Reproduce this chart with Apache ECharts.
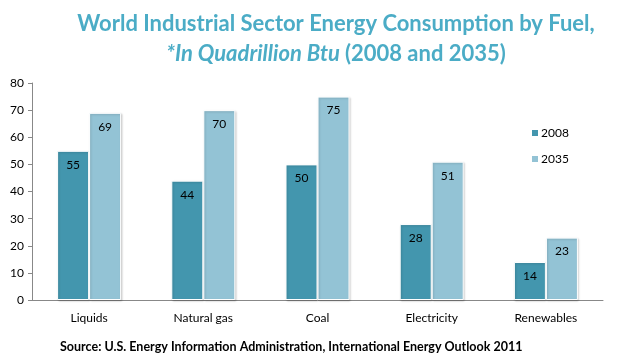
<!DOCTYPE html>
<html><head><meta charset="utf-8">
<script src="https://cdn.jsdelivr.net/npm/echarts@6/dist/echarts.min.js"></script>
<style>html,body{margin:0;padding:0;background:#fff}#c{width:643px;height:356px}</style>
</head><body><div id="c"></div>
<script>
const categories = ['Liquids', 'Natural gas', 'Coal', 'Electricity', 'Renewables'];
const values2008 = [55, 44, 50, 28, 14];
const values2035 = [69, 70, 75, 51, 23];
const seriesNames = ['2008', '2035'];
const yTicks = [0, 10, 20, 30, 40, 50, 60, 70, 80];

const chart = echarts.init(document.getElementById('c'));
const font = 'Lato, "Open Sans", sans-serif';
const labelCfg = {show: true, position: 'insideTop', distance: 8, color: '#000', fontSize: 12, fontFamily: font};
chart.setOption({
  animation: false,
  title: [{
    text: '{b|World Industrial Sector Energy Consumption by Fuel,}\n{i|*In Quadrillion Btu} {b|(2008 and 2035)}',
    left: 331, top: 4, textAlign: 'center',
    textStyle: {
      rich: {
        b: {fontFamily: font, fontSize: 22, fontWeight: 'bold', color: '#4BACC6', lineHeight: 30, align: 'center'},
        i: {fontFamily: font, fontSize: 22, fontWeight: 'bold', fontStyle: 'italic', color: '#4BACC6', lineHeight: 30}
      }
    }
  }, {
    text: 'Source: U.S. Energy Information Administration, International Energy Outlook 2011',
    left: 55, top: 335,
    textStyle: {fontFamily: font, fontSize: 12.5, fontWeight: 'bold', color: '#000'}
  }],
  legend: {
    orient: 'vertical', left: 525, top: 122, itemWidth: 8, itemHeight: 8, itemGap: 14,
    icon: 'rect',
    textStyle: {fontFamily: font, fontSize: 12, color: '#000', padding: [0, 0, 0, -3]},
    data: seriesNames
  },
  grid: {left: 32, right: 40, top: 83, bottom: 56, containLabel: false},
  xAxis: {
    type: 'category', data: categories,
    axisLine: {lineStyle: {color: '#888'}},
    axisTick: {show: false},
    axisLabel: {fontFamily: font, fontSize: 12, color: '#000', margin: 12}
  },
  yAxis: {
    type: 'value', min: yTicks[0], max: yTicks[yTicks.length - 1], interval: 10,
    axisLine: {show: true, lineStyle: {color: '#888'}},
    axisTick: {show: true, length: 4, lineStyle: {color: '#888'}},
    splitLine: {show: false},
    axisLabel: {fontFamily: font, fontSize: 12, color: '#000', margin: 8}
  },
  series: [{
    name: seriesNames[0], type: 'bar', data: values2008, barWidth: 32, barGap: '0%',
    itemStyle: {color: '#4396AE', borderColor: '#fff', borderWidth: 1, shadowColor: 'rgba(0,0,0,0.18)', shadowBlur: 2, shadowOffsetX: 1, shadowOffsetY: 1},
    label: labelCfg
  }, {
    name: seriesNames[1], type: 'bar', data: values2035, barWidth: 32,
    itemStyle: {color: '#93C3D5', borderColor: '#fff', borderWidth: 1, shadowColor: 'rgba(0,0,0,0.18)', shadowBlur: 2, shadowOffsetX: 1, shadowOffsetY: 1},
    label: labelCfg
  }]
});
</script></body></html>
